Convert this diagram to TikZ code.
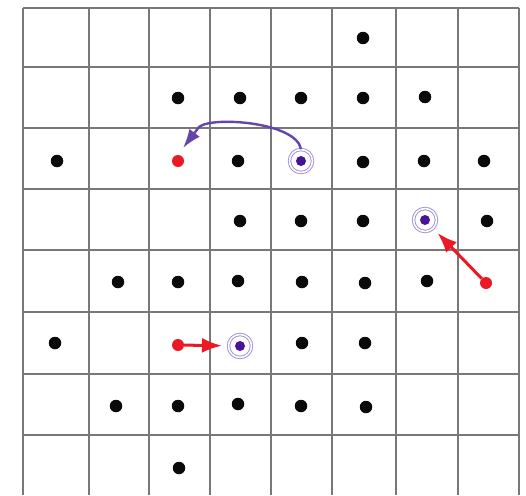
\documentclass[tikz,border=0pt]{standalone}
\usepackage{tikz}
\usepackage{xcolor}
\usetikzlibrary{arrows.meta,calc}
\definecolor{GridCol}{RGB}{120,120,120}
\definecolor{DotCol}{RGB}{10,10,10}
\definecolor{MoveRed}{RGB}{235,25,35}
\definecolor{AtomBlue}{RGB}{70,20,150}
\definecolor{RingCol}{RGB}{160,140,215}
\definecolor{ArcCol}{RGB}{100,70,170}
\tikzset{
  gdline/.style={line width=1.6pt, draw=GridCol},
  gddot/.style={circle, fill=DotCol, inner sep=0pt, minimum size=12.5pt},
  gdred/.style={circle, fill=MoveRed, inner sep=0pt, minimum size=12pt},
  gdatom/.style={circle, fill=AtomBlue, inner sep=0pt, minimum size=10pt},
  gdring/.style={circle, inner sep=0pt, minimum size=23pt,
    draw=RingCol, line width=0.9pt, double=white, double distance=1.6pt},
  gdhop/.style={-{Latex[length=20pt,width=15pt]}, line width=3pt, draw=MoveRed},
  gdarc/.style={-{Latex[length=19pt,width=13pt]}, line width=2.4pt, draw=ArcCol}
}
\begin{document}
\begin{tikzpicture}[x=1pt,y=-1pt]
  \useasboundingbox (0,0) rectangle (526,495);
  % grid
  \foreach \gx in {23,89,149,210,271,332,396,458,519}
    \draw[gdline] (\gx,8) -- (\gx,495);
  \foreach \gy in {8,67,128,189,250,312,374,435}
    \draw[gdline] (23,\gy) -- (519,\gy);
  % occupied sites
  \foreach \px/\py in {363/38,
      178/98,240/98,301/98,363/98,425/97,
      57/161,238/161,363/162,424/161,484/161,
      240/221,301/221,363/221,487/221,
      118/282,178/282,238/281,302/282,365/283,427/281,
      55/343,302/343,365/343,
      116/406,178/406,238/404,301/406,366/407,
      179/468}
    \node[gddot] (d-\px-\py) at (\px,\py) {};
  % vacancies and moved atoms
  \node[gdred] (vacA) at (178,161) {};
  \node[gdred] (vacB) at (486,283) {};
  \node[gdred] (vacC) at (178,345) {};
  \node[gdring] (ringA) at (301,161) {};
  \node[gdring] (ringB) at (425,220) {};
  \node[gdring] (ringC) at (240,346) {};
  \node[gdatom] (atomA) at (ringA) {};
  \node[gdatom] (atomB) at (ringB) {};
  \node[gdatom] (atomC) at (ringC) {};
  \coordinate (endA) at (183,148);
  % moves
  \draw[gdarc] (ringA.north) .. controls (296,122) and (212,116) .. (199,127) -- (endA);
  \draw[gdhop, shorten >=6pt] (vacB) -- (ringB);
  \draw[gdhop, shorten >=6pt] (vacC) -- (ringC);
\end{tikzpicture}
\end{document}
